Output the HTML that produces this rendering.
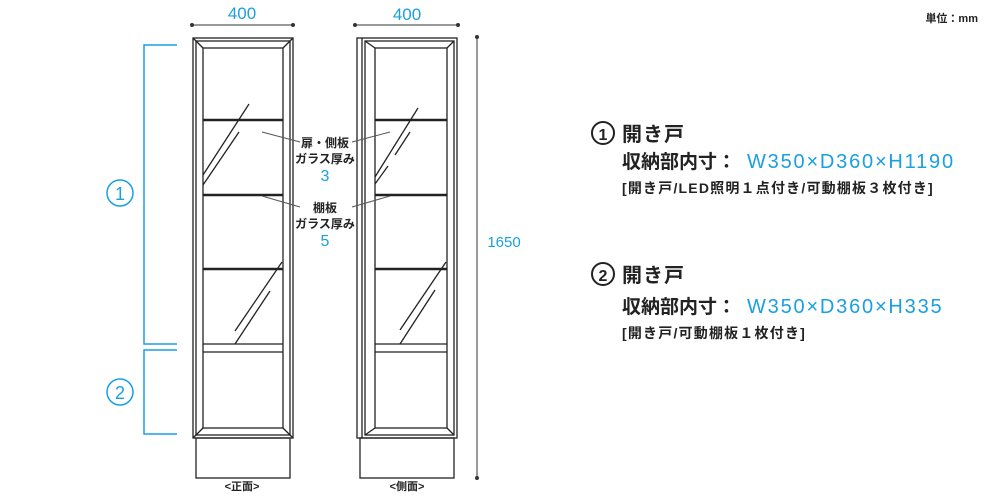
<!DOCTYPE html>
<html><head><meta charset="utf-8"><style>
body{margin:0;background:#fff;}
svg{display:block;font-family:"Liberation Sans","Noto Sans CJK JP",sans-serif;}
</style></head><body>
<svg width="1000" height="500" viewBox="0 0 1000 500" xmlns="http://www.w3.org/2000/svg">
<g fill="none" stroke="#1a9fe0" stroke-width="1.5">
<polyline points="177,45 144,45 144,344 177,344"/>
<polyline points="177,350 144,350 144,434 177,434"/>
<circle cx="120" cy="193" r="13"/>
<circle cx="120" cy="392" r="13"/>
</g>
<g fill="#1a9fe0" font-size="18" text-anchor="middle">
<text x="120" y="200">1</text>
<text x="120" y="399">2</text>
<text x="242" y="19" font-size="17">400</text>
<text x="407" y="20" font-size="17">400</text>
<text x="325" y="181" font-size="16">3</text>
<text x="325" y="246" font-size="16">5</text>
<text x="504" y="247" font-size="15" fill="#1a9fe0">1650</text>
</g>
<g stroke="#333" stroke-width="1" fill="#333">
<line x1="192" y1="25" x2="293" y2="25"/><circle cx="192" cy="25" r="1.5"/><circle cx="293" cy="25" r="1.5"/>
<line x1="355" y1="25" x2="458" y2="25"/><circle cx="355" cy="25" r="1.5"/><circle cx="458" cy="25" r="1.5"/>
<line x1="477" y1="37" x2="477" y2="478"/><circle cx="477" cy="37" r="1.5"/><circle cx="477" cy="478" r="1.5"/>
</g>
<g fill="none" stroke="#222" stroke-width="1.3">
<rect x="193" y="38" width="100" height="400"/>
<rect x="196" y="41" width="94" height="394"/>
<rect x="203" y="48" width="80" height="380"/>
<line x1="193" y1="38" x2="203" y2="48"/><line x1="293" y1="38" x2="283" y2="48"/>
<line x1="193" y1="438" x2="203" y2="428"/><line x1="293" y1="438" x2="283" y2="428"/>
<rect x="196" y="438" width="94" height="40"/>
<line x1="203" y1="344" x2="283" y2="344"/><line x1="203" y1="352" x2="283" y2="352"/>
<line x1="249" y1="104" x2="203" y2="175"/><line x1="239" y1="132" x2="203" y2="185"/>
<line x1="282" y1="262" x2="235" y2="331"/><line x1="270" y1="291" x2="235" y2="344"/>
</g>
<g stroke="#222" stroke-width="2.5">
<line x1="203" y1="120" x2="283" y2="120"/><line x1="203" y1="195" x2="283" y2="195"/><line x1="203" y1="269" x2="283" y2="269"/>
</g>
<g fill="none" stroke="#222" stroke-width="1.3">
<rect x="357" y="38" width="100" height="400"/>
<line x1="362" y1="38" x2="362" y2="438"/>
<rect x="365" y="41" width="89" height="394"/>
<rect x="375" y="48" width="72" height="380"/>
<line x1="365" y1="41" x2="375" y2="48"/><line x1="454" y1="41" x2="447" y2="48"/>
<line x1="365" y1="435" x2="375" y2="428"/><line x1="454" y1="435" x2="447" y2="428"/>
<rect x="360" y="438" width="94" height="40"/>
<line x1="375" y1="344" x2="447" y2="344"/><line x1="375" y1="352" x2="447" y2="352"/>
<line x1="418" y1="108" x2="375" y2="177"/><line x1="410" y1="132" x2="395" y2="155"/><line x1="388" y1="166" x2="375" y2="184"/>
<line x1="446" y1="262" x2="400" y2="330"/><line x1="435" y1="290" x2="400" y2="344"/>
</g>
<g stroke="#222" stroke-width="2.5">
<line x1="375" y1="120" x2="447" y2="120"/><line x1="375" y1="195" x2="447" y2="195"/><line x1="375" y1="269" x2="447" y2="269"/>
</g>
<g stroke="#555" stroke-width="1">
<line x1="262" y1="132" x2="300" y2="142"/><line x1="352" y1="142" x2="390" y2="132"/>
<line x1="262" y1="196" x2="300" y2="207"/><line x1="352" y1="207" x2="390" y2="196"/>
</g>
<g fill="#222" font-size="12" font-weight="bold" text-anchor="middle">
<text x="325" y="147">扉・側板</text>
<text x="325" y="163">ガラス厚み</text>
<text x="325" y="212">棚板</text>
<text x="325" y="228">ガラス厚み</text>
<text x="242" y="490" font-size="11">&lt;正面&gt;</text>
<text x="407" y="490" font-size="11">&lt;側面&gt;</text>
</g>
<text x="978" y="22" font-size="11" font-weight="bold" fill="#222" text-anchor="end">単位：mm</text>
<g fill="#222" font-weight="bold">
<circle cx="603" cy="133" r="11" fill="none" stroke="#222" stroke-width="2"/>
<text x="603" y="140" font-size="16" text-anchor="middle">1</text>
<text x="622" y="141" font-size="20" letter-spacing="1">開き戸</text>
<text x="622" y="168" font-size="19">収納部内寸：</text>
<text x="747" y="168" font-size="20" fill="#1a9fe0" font-weight="normal" letter-spacing="1.8">W350×D360×H1190</text>
<text x="622" y="193" font-size="14" letter-spacing="1.2">[開き戸/LED照明１点付き/可動棚板３枚付き]</text>
<circle cx="603" cy="274" r="11" fill="none" stroke="#222" stroke-width="2"/>
<text x="603" y="281" font-size="16" text-anchor="middle">2</text>
<text x="622" y="282" font-size="20" letter-spacing="1">開き戸</text>
<text x="622" y="313" font-size="19">収納部内寸：</text>
<text x="747" y="313" font-size="20" fill="#1a9fe0" font-weight="normal" letter-spacing="1.8">W350×D360×H335</text>
<text x="622" y="338" font-size="14" letter-spacing="1.2">[開き戸/可動棚板１枚付き]</text>
</g>
</svg>
</body></html>
